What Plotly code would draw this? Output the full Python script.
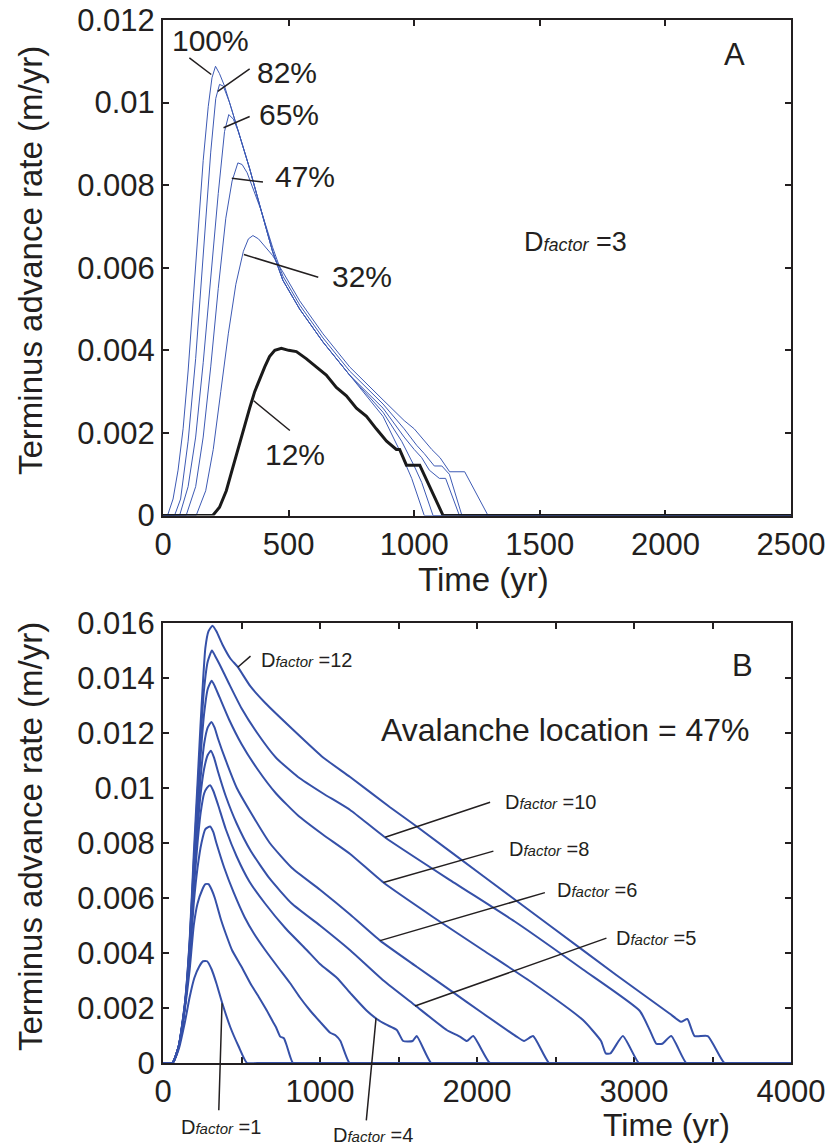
import plotly.graph_objects as go

# ---------------- Panel A data (avalanche location, Dfactor = 3) ----------------
a100_t = [0, 18, 40, 60, 80, 100, 120, 140, 160, 180, 195, 209, 225, 245, 265, 300, 345, 390, 436, 477, 544, 637, 743, 876, 940, 990, 1040, 2500]
a100_v = [0, 0, 0.0004, 0.0011, 0.0021, 0.0035, 0.0052, 0.0070, 0.0086, 0.0099, 0.0106, 0.01088, 0.0107, 0.0104, 0.0100, 0.0093, 0.0084, 0.0074, 0.0064, 0.0057, 0.0050, 0.0042, 0.0034, 0.0024, 0.0016, 0.0009, 0, 0]

a82_t = [0, 46, 70, 100, 130, 160, 190, 210, 225, 240, 265, 300, 345, 390, 436, 477, 544, 637, 743, 876, 950, 1000, 1030, 1075, 2500]
a82_v = [0, 0, 0.0004, 0.0018, 0.0038, 0.0063, 0.0088, 0.0101, 0.01044, 0.0104, 0.0100, 0.0093, 0.0084, 0.0074, 0.0064, 0.0057, 0.0050, 0.0042, 0.0034, 0.0025, 0.0018, 0.0012, 0.0008, 0, 0]

a65_t = [0, 66, 100, 130, 160, 190, 220, 245, 262, 280, 300, 345, 390, 436, 477, 544, 637, 743, 876, 960, 1000, 1030, 1060, 1100, 1125, 1180, 2500]
a65_v = [0, 0, 0.0007, 0.0019, 0.0037, 0.0058, 0.0078, 0.0093, 0.00971, 0.0096, 0.0093, 0.0084, 0.0074, 0.0064, 0.0057, 0.0050, 0.0042, 0.0034, 0.0026, 0.0019, 0.0016, 0.0014, 0.0011, 0.0009, 0.0009, 0, 0]

a47_t = [0, 92, 130, 160, 190, 220, 250, 275, 298, 315, 335, 390, 436, 477, 544, 637, 743, 876, 960, 1010, 1040, 1080, 1110, 1140, 1190, 2500]
a47_v = [0, 0, 0.0007, 0.0019, 0.0036, 0.0055, 0.0072, 0.0081, 0.00854, 0.0085, 0.0083, 0.0074, 0.0065, 0.0058, 0.0051, 0.0043, 0.0035, 0.0027, 0.0021, 0.0017, 0.0015, 0.0012, 0.0012, 0.0010, 0, 0]

a32_t = [0, 132, 170, 200, 230, 260, 290, 320, 340, 358, 380, 410, 436, 477, 544, 637, 743, 876, 960, 1000, 1041, 1070, 1103, 1141, 1201, 1294, 2500]
a32_v = [0, 0, 0.0006, 0.0016, 0.0030, 0.0044, 0.0056, 0.0064, 0.0067, 0.00678, 0.0067, 0.0065, 0.0063, 0.0059, 0.0052, 0.0044, 0.0036, 0.0028, 0.0023, 0.0021, 0.0018, 0.0016, 0.0014, 0.00106, 0.00106, 0, 0]

a12_t = [0, 198, 225, 252, 275, 298, 320, 345, 365, 384, 405, 424, 445, 471, 500, 531, 570, 610, 650, 690, 730, 770, 810, 849, 890, 929, 942, 969, 1022, 1115, 2500]
a12_v = [0, 0, 0.0002, 0.0006, 0.0011, 0.0016, 0.0021, 0.0026, 0.0030, 0.0033, 0.0036, 0.00385, 0.0040, 0.00405, 0.0040, 0.00397, 0.0038, 0.0036, 0.0034, 0.0031, 0.0029, 0.0026, 0.0024, 0.0021, 0.0018, 0.0016, 0.0016, 0.00122, 0.00122, 0, 0]

# ---------------- Panel B data (avalanche location 47 %) ----------------
b1_t = [0, 60, 100, 140, 170, 200, 230, 255, 281, 310, 340, 376, 429, 482, 535, 600, 4000]
b1_v = [0, 0, 0.0005, 0.0015, 0.0024, 0.0031, 0.0035, 0.0037, 0.0037, 0.0034, 0.0029, 0.0022, 0.0013, 0.0006, 0, 0, 0]

b2_t = [0, 60, 100, 140, 170, 196, 220, 250, 270, 290, 310, 330, 370, 400, 440, 500, 556, 610, 662, 700, 720, 747, 770, 790, 828, 900, 4000]
b2_v = [0, 0, 0.0006, 0.0020, 0.0034, 0.0050, 0.0058, 0.0063, 0.0065, 0.0065, 0.0063, 0.0060, 0.0052, 0.0047, 0.0041, 0.0035, 0.0029, 0.0024, 0.0019, 0.0015, 0.0013, 0.00096, 0.0009, 0.0006, 0, 0, 0]

b3_t = [0, 60, 100, 140, 170, 196, 220, 245, 270, 300, 320, 340, 390, 450, 520, 580, 652, 730, 810, 870, 938, 1000, 1065, 1100, 1130, 1188, 1260, 4000]
b3_v = [0, 0, 0.0006, 0.0021, 0.0038, 0.0058, 0.0071, 0.0080, 0.0085, 0.0086, 0.0084, 0.0080, 0.0071, 0.0062, 0.0053, 0.0047, 0.0041, 0.0035, 0.0029, 0.0024, 0.0019, 0.0015, 0.0011, 0.0010, 0.0008, 0, 0, 0]

b4_t = [0, 60, 100, 140, 170, 196, 220, 240, 262, 280, 300, 320, 350, 400, 470, 550, 650, 780, 917, 1000, 1107, 1200, 1298, 1362, 1420, 1489, 1530, 1590, 1616, 1708, 1780, 4000]
b4_v = [0, 0, 0.0006, 0.0021, 0.0040, 0.0063, 0.0080, 0.0091, 0.0098, 0.0100, 0.0101, 0.0099, 0.0094, 0.0085, 0.0075, 0.0066, 0.0058, 0.0049, 0.0041, 0.0036, 0.0031, 0.0025, 0.0019, 0.0016, 0.0014, 0.0012, 0.0008, 0.0008, 0.00098, 0, 0, 0]

b5_t = [0, 60, 100, 140, 170, 196, 220, 240, 262, 285, 305, 325, 350, 400, 470, 560, 680, 820, 1000, 1192, 1404, 1605, 1807, 1891, 1935, 1976, 2082, 2150, 4000]
b5_v = [0, 0, 0.0006, 0.0021, 0.0041, 0.0066, 0.0085, 0.0098, 0.0107, 0.0112, 0.01135, 0.0111, 0.0106, 0.0097, 0.0087, 0.0077, 0.0067, 0.0058, 0.0050, 0.0041, 0.0030, 0.0021, 0.0012, 0.00096, 0.0008, 0.00098, 0, 0, 0]

b6_t = [0, 60, 100, 140, 170, 196, 220, 240, 262, 285, 308, 328, 350, 400, 470, 560, 680, 820, 1000, 1192, 1383, 1616, 1828, 2039, 2252, 2300, 2357, 2459, 2530, 4000]
b6_v = [0, 0, 0.0006, 0.0021, 0.0042, 0.0068, 0.0089, 0.0104, 0.0116, 0.0122, 0.0124, 0.0122, 0.0118, 0.0110, 0.0100, 0.0091, 0.0080, 0.0071, 0.0063, 0.0054, 0.00445, 0.0035, 0.00265, 0.0018, 0.00096, 0.0008, 0.00098, 0, 0, 0]

b8_t = [0, 60, 100, 140, 170, 196, 220, 240, 262, 285, 310, 330, 360, 420, 500, 600, 720, 860, 1020, 1192, 1404, 1722, 2039, 2357, 2675, 2790, 2820, 2850, 2929, 3031, 3100, 4000]
b8_v = [0, 0, 0.0006, 0.0021, 0.0043, 0.0071, 0.0094, 0.0112, 0.0127, 0.0136, 0.0139, 0.0137, 0.0133, 0.0125, 0.0116, 0.0107, 0.0098, 0.0090, 0.0083, 0.0076, 0.00656, 0.0053, 0.0041, 0.0029, 0.00156, 0.0008, 0.00035, 0.00035, 0.00098, 0, 0, 0]

b10_t = [0, 60, 100, 140, 170, 196, 220, 240, 260, 285, 312, 332, 360, 420, 500, 600, 720, 860, 1020, 1192, 1415, 1828, 2252, 2675, 3036, 3100, 3142, 3180, 3237, 3333, 3400, 4000]
b10_v = [0, 0, 0.0006, 0.0022, 0.0044, 0.0073, 0.0098, 0.0118, 0.0135, 0.0146, 0.0150, 0.0148, 0.0145, 0.0138, 0.0129, 0.0120, 0.0111, 0.0104, 0.0098, 0.0092, 0.0082, 0.00665, 0.0051, 0.0034, 0.0019, 0.0012, 0.0007, 0.0007, 0.00098, 0, 0, 0]

b12_t = [0, 60, 100, 140, 170, 196, 220, 238, 255, 270, 290, 315, 340, 380, 430, 476, 556, 650, 832, 1022, 1192, 1446, 1616, 2039, 2463, 2887, 3226, 3300, 3340, 3386, 3470, 3576, 3650, 4000]
b12_v = [0, 0, 0.0006, 0.0022, 0.0045, 0.0076, 0.0102, 0.0122, 0.0139, 0.0151, 0.0157, 0.0159, 0.0157, 0.0152, 0.0147, 0.0144, 0.0137, 0.0131, 0.0121, 0.0111, 0.0104, 0.0093, 0.0086, 0.0068, 0.0050, 0.0032, 0.0018, 0.0015, 0.0016, 0.00098, 0.00098, 0, 0, 0]

xticks_a = [0, 500, 1000, 1500, 2000, 2500]
yticks_a = [0, 0.002, 0.004, 0.006, 0.008, 0.01, 0.012]
ytext_a = ["0", "0.002", "0.004", "0.006", "0.008", "0.01", "0.012"]
xticks_b = [0, 500, 1000, 1500, 2000, 2500, 3000, 3500, 4000]
xtext_b = ["0", "", "1000", "", "2000", "", "3000", "", "4000"]
yticks_b = [0, 0.002, 0.004, 0.006, 0.008, 0.01, 0.012, 0.014, 0.016]
ytext_b = ["0", "0.002", "0.004", "0.006", "0.008", "0.01", "0.012", "0.014", "0.016"]

# labels: (text, x, y, head_x, head_y, tail_x, tail_y)
labels_a = [
    ("100%", 189, 0.0115, 192, 0.01068, 99, 0.01111),
    ("82%", 492, 0.01074, 218, 0.01027, 351, 0.01084),
    ("65%", 500, 0.00971, 241, 0.00939, 351, 0.00968),
    ("47%", 564, 0.00822, 274, 0.00817, 404, 0.00807),
    ("32%", 791, 0.00578, 322, 0.00632, 624, 0.00576),
    ("12%", 526, 0.00147, 361, 0.00278, 511, 0.00203),
]
# panel B labels inside the plot (data coords)
labels_b = [
    ("12", 914, 0.01465, 476, 0.01439, 567, 0.01484),
    ("10", 2469, 0.00949, 1415, 0.00821, 2093, 0.0095),
    ("8", 2457, 0.00778, 1404, 0.00656, 2114, 0.00772),
    ("6", 2762, 0.00629, 1383, 0.00445, 2442, 0.00621),
    ("5", 3137, 0.00455, 1605, 0.00207, 2834, 0.00456),
]
# panel B labels below the axis: (text, paper_x, paper_y, head_x, head_y, tail_x, tail_y)
labels_b_low = [
    ("1", 0.0924, -0.0614, 376, 0.00217, 355, -0.00177),
    ("4", 0.3344, -0.0690, 1357, 0.00163, 1294, -0.00214),
]

BLUE_A = "#3d5ab4"
BLUE_B = "#3550a8"
INK = "#231f20"
FONT = "Liberation Sans, Arial, sans-serif"

fig = go.Figure()
for t, v in [(a100_t, a100_v), (a82_t, a82_v), (a65_t, a65_v), (a47_t, a47_v), (a32_t, a32_v)]:
    fig.add_trace(go.Scatter(x=t, y=v, mode="lines", line=dict(color=BLUE_A, width=1),
                             xaxis="x", yaxis="y", showlegend=False))
fig.add_trace(go.Scatter(x=a12_t, y=a12_v, mode="lines", line=dict(color="#1a1a1a", width=3),
                         xaxis="x", yaxis="y", showlegend=False))

for t, v in [(b1_t, b1_v), (b2_t, b2_v), (b3_t, b3_v), (b4_t, b4_v), (b5_t, b5_v),
             (b6_t, b6_v), (b8_t, b8_v), (b10_t, b10_v), (b12_t, b12_v)]:
    fig.add_trace(go.Scatter(x=t, y=v, mode="lines",
                             line=dict(color=BLUE_B, width=2, shape="spline", smoothing=0.5),
                             xaxis="x2", yaxis="y2", showlegend=False))

def dlabel(n, small):
    return "D<span style='font-size:%dpx'><i>factor</i></span> =%s" % (small, n)

ann = []
for txt, x, y, hx, hy, tx, ty in labels_a:
    ann.append(dict(x=x, y=y, xref="x", yref="y", text=txt, showarrow=False,
                    xanchor="center", yanchor="middle",
                    font=dict(size=30, color=INK, family=FONT)))
    ann.append(dict(x=hx, y=hy, ax=tx, ay=ty, xref="x", yref="y", axref="x", ayref="y",
                    text="", showarrow=True, arrowhead=0, arrowwidth=1.5, arrowcolor=INK,
                    standoff=0, startstandoff=0))
for txt, x, y, hx, hy, tx, ty in labels_b:
    ann.append(dict(x=x, y=y, xref="x2", yref="y2", text=dlabel(txt, 15),
                    showarrow=False, xanchor="center", yanchor="middle",
                    font=dict(size=20, color=INK, family=FONT)))
    ann.append(dict(x=hx, y=hy, ax=tx, ay=ty, xref="x2", yref="y2", axref="x2", ayref="y2",
                    text="", showarrow=True, arrowhead=0, arrowwidth=1.5, arrowcolor=INK,
                    standoff=0, startstandoff=0))
for txt, px, py, hx, hy, tx, ty in labels_b_low:
    ann.append(dict(x=px, y=py, xref="paper", yref="paper", text=dlabel(txt, 15),
                    showarrow=False, xanchor="center", yanchor="middle",
                    font=dict(size=20, color=INK, family=FONT)))
    ann.append(dict(x=hx, y=hy, ax=tx, ay=ty, xref="x2", yref="y2", axref="x2", ayref="y2",
                    text="", showarrow=True, arrowhead=0, arrowwidth=1.5, arrowcolor=INK,
                    standoff=0, startstandoff=0))

ann += [
    dict(x=1643, y=0.00663, xref="x", yref="y", showarrow=False, xanchor="center", yanchor="middle",
         text=dlabel("3", 18), font=dict(size=27, color=INK, family=FONT)),
    dict(x=2277, y=0.01116, xref="x", yref="y", showarrow=False, text="A",
         xanchor="center", yanchor="middle", font=dict(size=31, color=INK, family=FONT)),
    dict(x=2562, y=0.01211, xref="x2", yref="y2", showarrow=False, xanchor="center", yanchor="middle",
         text="Avalanche location = 47%", font=dict(size=32, color=INK, family=FONT)),
    dict(x=3691, y=0.01447, xref="x2", yref="y2", showarrow=False, text="B",
         xanchor="center", yanchor="middle", font=dict(size=31, color=INK, family=FONT)),
    dict(x=0.5111, y=0.4631, xref="paper", yref="paper", showarrow=False, text="Time (yr)",
         xanchor="center", yanchor="middle", font=dict(size=33, color=INK, family=FONT)),
    dict(x=0.8025, y=-0.0590, xref="paper", yref="paper", showarrow=False, text="Time (yr)",
         xanchor="center", yanchor="middle", font=dict(size=32, color=INK, family=FONT)),
    dict(x=-0.2118, y=(1063 - 260) / 1043, xref="paper", yref="paper", showarrow=False,
         text="Terminus advance rate (m/yr)", textangle=-90, xanchor="center", yanchor="middle",
         font=dict(size=33, color=INK, family=FONT)),
    dict(x=-0.2118, y=(1063 - 836) / 1043, xref="paper", yref="paper", showarrow=False,
         text="Terminus advance rate (m/yr)", textangle=-90, xanchor="center", yanchor="middle",
         font=dict(size=33, color=INK, family=FONT)),
]

axis_style = dict(showline=True, linecolor=INK, linewidth=2, mirror="ticks", ticks="inside",
                  ticklen=6, tickwidth=1.5, tickcolor=INK, showgrid=False, zeroline=False,
                  automargin=False, layer="below traces",
                  tickfont=dict(size=31, color=INK, family=FONT))

fig.update_layout(
    width=833, height=1145,
    margin=dict(l=163, r=42, t=20, b=82),
    paper_bgcolor="white", plot_bgcolor="white",
    font=dict(family=FONT, color=INK),
    xaxis=dict(axis_style, domain=[0, 1], anchor="y", range=[0, 2500], tickvals=xticks_a),
    yaxis=dict(axis_style, domain=[0.5249, 1], anchor="x", range=[0, 0.012],
               tickvals=yticks_a, ticktext=ytext_a),
    xaxis2=dict(axis_style, domain=[0, 1], anchor="y2", range=[0, 4000],
                tickvals=xticks_b, ticktext=xtext_b),
    yaxis2=dict(axis_style, domain=[0, 0.4219], anchor="x2", range=[0, 0.016],
                tickvals=yticks_b, ticktext=ytext_b),
    annotations=ann,
    showlegend=False,
)

fig.write_html("out.html", config={"displayModeBar": False},
               post_script="document.body.style.margin='0';document.body.style.overflow='hidden';")
